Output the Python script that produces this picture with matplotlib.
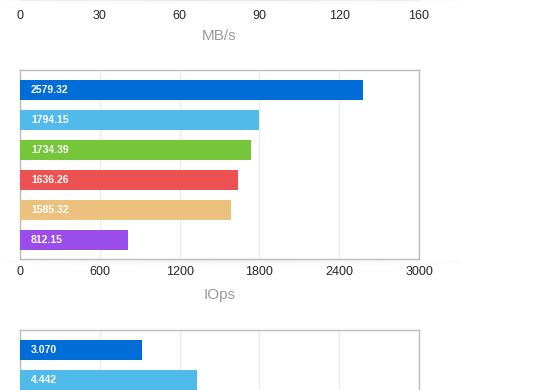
import numpy as np
from matplotlib import pyplot as plt

plt.rcParams['font.family'] = ['Liberation Sans', 'DejaVu Sans']

# data
mb_tick_labels = ['0', '30', '60', '90', '120', '160']

iops_values = [2579.32, 1794.15, 1734.39, 1636.26, 1585.32, 812.15]
iops_ticks = [0, 600, 1200, 1800, 2400, 3000]

lat_values = [3.070, 4.442]
lat_ticks = [0, 2, 4, 6, 8, 10]

colors = ['#006cd8', '#50bbeb', '#76c63a', '#ee5151', '#ecc07d', '#9b4dec']

W, H = 560, 390
fig = plt.figure(figsize=(W / 100, H / 100), dpi=100)


def px_axes(left, top, right, bottom):
    return fig.add_axes([left / W, 1 - bottom / H, (right - left) / W, (bottom - top) / H])


def style(ax, ticks, labels=None, xlabel=None, pad=5, labelpad=7):
    ax.set_xlim(ticks[0], ticks[-1])
    ax.set_xticks(ticks)
    if labels is not None:
        ax.set_xticklabels(labels)
    else:
        ax.tick_params(axis='x', labelbottom=False)
    ax.set_yticks([])
    ax.tick_params(axis='x', length=0, pad=pad, labelsize=9, labelcolor='#262626')
    ax.grid(axis='x', color='#ebebeb', linewidth=1)
    ax.set_axisbelow(True)
    for s in ax.spines.values():
        s.set_color('#bdbdbd')
        s.set_linewidth(1)
    if xlabel:
        ax.set_xlabel(xlabel, fontsize=11, color='#9a9a9a', labelpad=labelpad)


def shadow(top_px, left=20, right=460):
    sh = px_axes(left - 15, top_px, right, top_px + 10)
    xs = np.linspace(-1, 1, 200)
    ys = np.linspace(0, 1, 20)
    a = 0.10 * np.exp(-xs[None, :] ** 2 * 1.5) * (1 - ys[:, None]) ** 2
    img = np.zeros((20, 200, 4))
    img[..., :3] = 0.3
    img[..., 3] = a
    sh.imshow(img, aspect='auto', extent=(0, 1, 1, 0))
    sh.axis('off')
    sh.set_zorder(-5)


def bars(ax, values, fmt):
    pos = np.arange(len(values))
    ax.barh(pos, values, height=0.667, color=colors[:len(values)], zorder=3)
    for p, v in zip(pos, values):
        ax.annotate(fmt.format(v), (0, p), xytext=(8, 0), textcoords='offset points',
                    va='center', ha='left', color='white', fontsize=7.5, fontweight='bold', zorder=4)


# top chart (only its axis labels are visible)
shadow(-2)
ax1 = px_axes(20, -190, 419, -1)
style(ax1, list(range(len(mb_tick_labels))), mb_tick_labels, 'MB/s', pad=8, labelpad=5)

# IOps chart
shadow(260)
ax2 = px_axes(20, 70, 419, 259)
bars(ax2, iops_values, '{:.2f}')
ax2.set_ylim(5 + 19 / 30, -20 / 30)
style(ax2, iops_ticks, [str(t) for t in iops_ticks], 'IOps')

# bottom chart (cut off by the picture edge)
ax3 = px_axes(20, 330, 419, 519)
bars(ax3, lat_values, '{:.3f}')
ax3.set_ylim(5 + 19 / 30, -20 / 30)
style(ax3, lat_ticks)

fig.savefig('out.png', dpi=100)
